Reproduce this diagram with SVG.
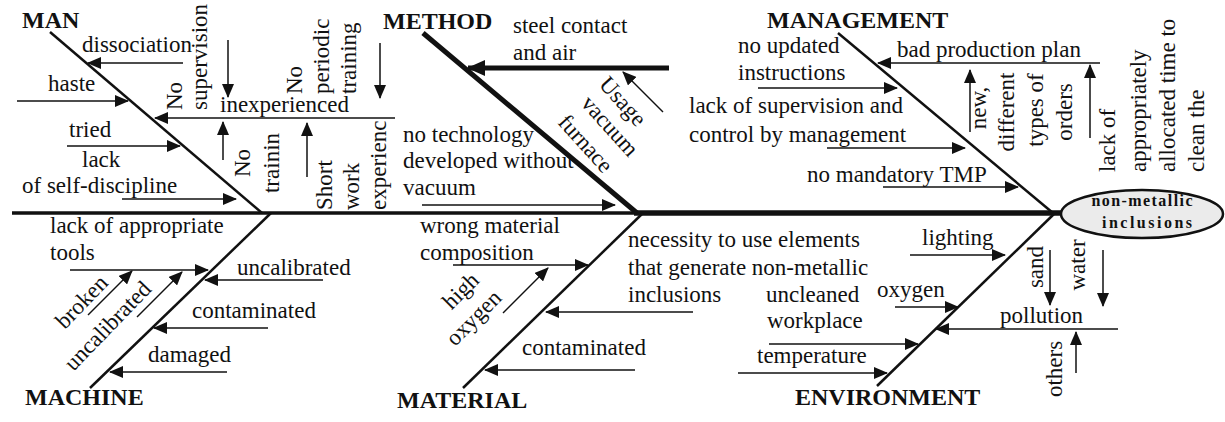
<svg xmlns="http://www.w3.org/2000/svg" width="1225" height="422" viewBox="0 0 1225 422">
  <style>
    text { font-family: "Liberation Serif", "Times New Roman", serif; font-size: 23px; fill: #111; }
    .cat { font-weight: bold; font-size: 24px; }
    .head { font-weight: bold; font-size: 16px; }
    .mid { text-anchor: middle; }
    .ar { stroke: #111; fill: none; stroke-width: 1.5; marker-end: url(#ah); }
    .bone { stroke: #111; fill: none; stroke-width: 2.5; }
  </style>
  <defs>
    <marker id="ah" markerWidth="14" markerHeight="12" refX="13" refY="6" orient="auto" markerUnits="userSpaceOnUse">
      <path d="M0,0 L14,6 L0,12 z" fill="#111"/>
    </marker>
    <marker id="ahBig" markerWidth="18" markerHeight="16" refX="17" refY="8" orient="auto" markerUnits="userSpaceOnUse">
      <path d="M0,0 L18,8 L0,16 z" fill="#111"/>
    </marker>
  </defs>

  <rect width="1225" height="422" fill="#fff"/>

  <!-- spine, bones and cause arrows -->
  <g id="connectors">
    <line class="bone" x1="12" y1="213" x2="638" y2="213" style="stroke-width:3.5"/>
    <line class="bone" x1="634" y1="213" x2="1062" y2="213" style="stroke-width:5.5"/>

    <line class="bone" x1="50" y1="32" x2="262" y2="213"/>
    <line class="bone" x1="423" y1="33" x2="637" y2="213" style="stroke-width:5"/>
    <line class="bone" x1="838" y1="33" x2="1053" y2="213"/>
    <line class="bone" x1="90" y1="388" x2="271" y2="213"/>
    <line class="bone" x1="463" y1="388" x2="643" y2="213"/>
    <line class="bone" x1="877" y1="386" x2="1055" y2="213"/>

    <!-- MAN -->
    <line class="ar" x1="183" y1="63" x2="88" y2="63"/>
    <line class="ar" x1="17" y1="101" x2="128" y2="101"/>
    <line class="ar" x1="395" y1="118" x2="155" y2="118"/>
    <line class="ar" x1="67" y1="146" x2="180" y2="146"/>
    <line class="ar" x1="122" y1="199" x2="236" y2="199"/>
    <line class="ar" x1="228" y1="40" x2="228" y2="97"/>
    <line class="ar" x1="380" y1="43" x2="380" y2="98"/>
    <line class="ar" x1="223" y1="160" x2="223" y2="122"/>
    <line class="ar" x1="307" y1="177" x2="307" y2="123"/>

    <!-- METHOD -->
    <line x1="669" y1="68" x2="468" y2="68" stroke="#111" stroke-width="5" marker-end="url(#ahBig)"/>
    <line class="ar" x1="663" y1="112" x2="623" y2="72"/>
    <line class="ar" x1="422" y1="205" x2="615" y2="205"/>

    <!-- MANAGEMENT -->
    <line class="ar" x1="1100" y1="63" x2="878" y2="63"/>
    <line class="ar" x1="758" y1="88" x2="897" y2="88"/>
    <line class="ar" x1="827" y1="148" x2="965" y2="148"/>
    <line class="ar" x1="883" y1="187" x2="1018" y2="187"/>
    <line class="ar" x1="970" y1="132" x2="970" y2="70"/>
    <line class="ar" x1="1090" y1="138" x2="1090" y2="65"/>

    <!-- MACHINE -->
    <line class="ar" x1="70" y1="270" x2="208" y2="270"/>
    <line class="ar" x1="323" y1="280" x2="205" y2="280"/>
    <line class="ar" x1="268" y1="328" x2="154" y2="328"/>
    <line class="ar" x1="227" y1="372" x2="110" y2="372"/>
    <line class="ar" x1="88" y1="315" x2="132" y2="271"/>
    <line class="ar" x1="137" y1="317" x2="182" y2="272"/>

    <!-- MATERIAL -->
    <line class="ar" x1="453" y1="265" x2="588" y2="265"/>
    <line class="ar" x1="503" y1="313" x2="548" y2="268"/>
    <line class="ar" x1="693" y1="312" x2="546" y2="312"/>
    <line class="ar" x1="635" y1="370" x2="485" y2="370"/>

    <!-- ENVIRONMENT -->
    <line class="ar" x1="910" y1="255" x2="1005" y2="255"/>
    <line class="ar" x1="895" y1="307" x2="958" y2="307"/>
    <line class="ar" x1="769" y1="344" x2="918" y2="344"/>
    <line class="ar" x1="738" y1="373" x2="887" y2="373"/>
    <line class="ar" x1="1118" y1="329" x2="936" y2="329"/>
    <line class="ar" x1="1050" y1="250" x2="1050" y2="305"/>
    <line class="ar" x1="1103" y1="250" x2="1103" y2="306"/>
    <line class="ar" x1="1076" y1="373" x2="1076" y2="332"/>
  </g>

  <!-- effect -->
  <g id="effect">
    <ellipse cx="1142" cy="214" rx="81" ry="24" fill="#ebebeb" stroke="#111" stroke-width="2.5"/>
    <text class="head mid" x="1142" y="206" textLength="101">non-metallic</text>
    <text class="head mid" x="1147" y="228" textLength="90">inclusions</text>
  </g>

  <g id="man">
    <text class="cat" x="22" y="28">MAN</text>
    <text x="82" y="52">dissociation</text>
    <text x="48" y="91">haste</text>
    <text x="69" y="137">tried</text>
    <text x="82" y="167">lack</text>
    <text x="22" y="193">of self-discipline</text>
    <text x="220" y="112">inexperienced</text>
    <text transform="translate(182,110) rotate(-90)">No</text>
    <text transform="translate(207,110) rotate(-90)">supervision</text>
    <text transform="translate(302,94) rotate(-90)">No</text>
    <text transform="translate(329,94) rotate(-90)">periodic</text>
    <text transform="translate(356,94) rotate(-90)">training</text>
    <text class="mid" transform="translate(250,163) rotate(-90)">No</text>
    <text class="mid" transform="translate(279,163) rotate(-90)">trainin</text>
    <text transform="translate(332,210) rotate(-90)">Short</text>
    <text transform="translate(359,210) rotate(-90)">work</text>
    <text transform="translate(386,210) rotate(-90)">experienc</text>
  </g>

  <g id="method">
    <text class="cat" x="383" y="29">METHOD</text>
    <text x="513" y="33">steel contact</text>
    <text x="513" y="60">and air</text>
    <text transform="translate(598,85) rotate(48)">Usage</text>
    <text transform="translate(580,104) rotate(48)">vacuum</text>
    <text transform="translate(557,123) rotate(48)">furnace</text>
    <text x="403" y="142">no technology</text>
    <text x="403" y="168">developed without</text>
    <text x="403" y="195">vacuum</text>
  </g>

  <g id="management">
    <text class="cat" x="767" y="28">MANAGEMENT</text>
    <text x="897" y="57">bad production plan</text>
    <text x="738" y="53">no updated</text>
    <text x="738" y="80">instructions</text>
    <text x="689" y="113">lack of supervision and</text>
    <text x="689" y="142">control by management</text>
    <text x="807" y="182">no mandatory TMP</text>
    <text class="mid" transform="translate(986,108) rotate(-90)">new,</text>
    <text class="mid" transform="translate(1014,112) rotate(-90)">different</text>
    <text class="mid" transform="translate(1043,110) rotate(-90)">types of</text>
    <text class="mid" transform="translate(1072,112) rotate(-90)">orders</text>
    <text transform="translate(1115,172) rotate(-90)">lack of</text>
    <text transform="translate(1146,172) rotate(-90)">appropriately</text>
    <text transform="translate(1175,172) rotate(-90)">allocated time to</text>
    <text transform="translate(1204,172) rotate(-90)">clean the</text>
  </g>

  <g id="machine">
    <text class="cat" x="25" y="405">MACHINE</text>
    <text x="50" y="233">lack of appropriate</text>
    <text x="50" y="260">tools</text>
    <text x="237" y="275">uncalibrated</text>
    <text x="192" y="318">contaminated</text>
    <text x="148" y="362">damaged</text>
    <text class="mid" transform="translate(87,307) rotate(-46)">broken</text>
    <text class="mid" transform="translate(113,331) rotate(-46)">uncalibrated</text>
  </g>

  <g id="material">
    <text class="cat" x="397" y="408">MATERIAL</text>
    <text x="420" y="233">wrong material</text>
    <text x="420" y="260">composition</text>
    <text x="628" y="247">necessity to use elements</text>
    <text x="628" y="275">that generate non-metallic</text>
    <text x="628" y="302">inclusions</text>
    <text x="522" y="355">contaminated</text>
    <text class="mid" transform="translate(466,296) rotate(-45)">high</text>
    <text class="mid" transform="translate(479,323) rotate(-45)">oxygen</text>
  </g>

  <g id="environment">
    <text class="cat" x="795" y="405">ENVIRONMENT</text>
    <text x="922" y="245">lighting</text>
    <text x="877" y="297">oxygen</text>
    <text x="766" y="302">uncleaned</text>
    <text x="767" y="328">workplace</text>
    <text x="757" y="363">temperature</text>
    <text x="1000" y="323">pollution</text>
    <text class="mid" transform="translate(1043,267) rotate(-90)">sand</text>
    <text class="mid" transform="translate(1085,265) rotate(-90)">water</text>
    <text class="mid" transform="translate(1062,369) rotate(-90)">others</text>
  </g>
</svg>
